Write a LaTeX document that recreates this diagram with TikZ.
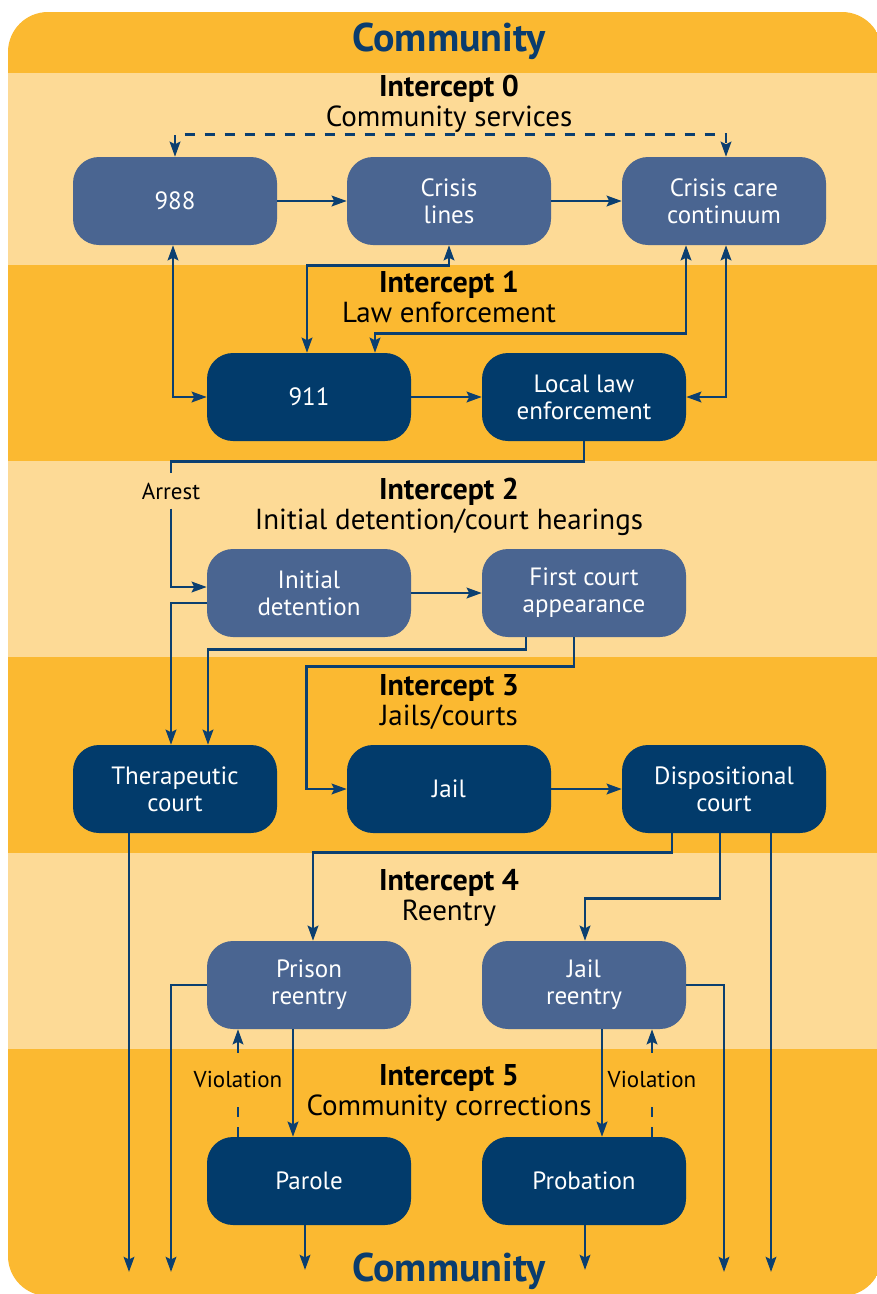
\documentclass[tikz,border=0pt]{standalone}
\usepackage{fontspec}
\setmainfont{PT Sans}
\usetikzlibrary{arrows.meta}
\definecolor{bandD}{HTML}{FBB931}
\definecolor{bandL}{HTML}{FDDA96}
\definecolor{boxM}{HTML}{4A6591}
\definecolor{boxD}{HTML}{023B6B}
\definecolor{lineC}{HTML}{0B3F70}
\definecolor{headC}{HTML}{0A3C6E}
\begin{document}
\begin{tikzpicture}[x=1pt,y=-1pt,
  boxbase/.style={rounded corners=26pt, minimum width=204pt, minimum height=88pt, inner sep=0pt,
    text=white, align=center, font=\fontsize{25}{27}\selectfont},
  mbox/.style={boxbase, fill=boxM},
  dbox/.style={boxbase, fill=boxD},
  ititle/.style={font=\fontsize{30}{32}\selectfont\bfseries, inner sep=0pt, anchor=base},
  isub/.style={font=\fontsize{29}{32}\selectfont, inner sep=0pt, anchor=base},
  header/.style={font=\fontsize{40}{44}\selectfont\bfseries, text=headC, inner sep=0pt, anchor=base},
  small/.style={font=\fontsize{23}{25}\selectfont, inner sep=0pt},
  conn/.style={draw=lineC, line width=2.9pt},
  tip/.tip={Stealth[length=15pt,width=10.5pt,inset=2.5pt]},
  arr/.style={conn, -tip},
  arrb/.style={conn, tip-tip},
  dashline/.style={dash pattern=on 10pt off 10pt}
]
\useasboundingbox (0,0) rectangle (877,1294);
\fill[white] (0,0) rectangle (877,1294);
\begin{scope}
\clip[rounded corners=40pt] (8,12) rectangle (882,1296);
\fill[bandD] (0,0) rectangle (890,1300);
\fill[bandL] (0,73) rectangle (890,265);
\fill[bandL] (0,461) rectangle (890,657);
\fill[bandL] (0,853) rectangle (890,1049);
\end{scope}

% headers and titles
\node[header] (ctop) at (449,51) {Community};
\node[header] (cbot) at (449,1281) {Community};
\node[ititle] (t0) at (449,96) {Intercept 0};
\node[isub] (s0) at (449,126) {Community services};
\node[ititle] (t1) at (449,292) {Intercept 1};
\node[isub] (s1) at (449,322) {Law enforcement};
\node[ititle] (t2) at (449,499) {Intercept 2};
\node[isub] (s2) at (449,529) {Initial detention/court hearings};
\node[ititle] (t3) at (449,695) {Intercept 3};
\node[isub] (s3) at (449,725) {Jails/courts};
\node[ititle] (t4) at (449,890) {Intercept 4};
\node[isub] (s4) at (449,920) {Reentry};
\node[ititle] (t5) at (449,1085) {Intercept 5};
\node[isub] (s5) at (449,1115) {Community corrections};

% boxes
\node[mbox] (n988) at (175,201) {988};
\node[mbox] (crisis) at (449,201) {Crisis\\lines};
\node[mbox] (care) at (724,201) {Crisis care\\continuum};
\node[dbox] (n911) at (309,397) {911};
\node[dbox] (law) at (584,397) {Local law\\enforcement};
\node[mbox] (detain) at (309,593) {Initial\\detention};
\node[mbox] (first) at (584,593) {First court\\appearance};
\node[dbox] (thera) at (175,789) {Therapeutic\\court};
\node[dbox] (jail) at (449,789) {Jail};
\node[dbox] (disp) at (724,789) {Dispositional\\court};
\node[mbox] (prison) at (309,985) {Prison\\reentry};
\node[mbox] (jailre) at (584,985) {Jail\\reentry};
\node[dbox] (parole) at (309,1181) {Parole};
\node[dbox] (prob) at (584,1181) {Probation};

% labels
\node[small, minimum height=35pt] (arrest) at (171,491) {Arrest};
\node[small, minimum height=52pt] (viol1) at (238,1079) {Violation};
\node[small, minimum height=52pt] (viol2) at (652,1079) {Violation};

% free ends
\coordinate (b1) at (129,1272);
\coordinate (b2) at (171,1272);
\coordinate (b3) at (305,1270);
\coordinate (b4) at (585,1270);
\coordinate (b5) at (724,1272);
\coordinate (b6) at (771,1272);

% Intercept 0
\draw[arr] (n988) -- (crisis);
\draw[arr] (crisis) -- (care);
\draw[arrb, dashline] (n988.north) -- ++(0,-22) -| ([xshift=2pt]care.north);

% Intercept 0 <-> 1
\draw[arrb] ([xshift=-2pt]n988.south) |- (n911.west);
\draw[arrb] (crisis.south) -- ++(0,20) -| ([xshift=-2pt]n911.north);
\draw[arrb] ([xshift=-38pt]care.south) -- ++(0,88) -| ([xshift=66pt]n911.north);
\draw[arrb] ([xshift=2pt]care.south) |- (law.east);
\draw[arr] (n911) -- (law);

% Intercept 1 -> 2
\draw[conn] (law.south) -- ++(0,20) -| (arrest.north);
\draw[arr] (arrest.south) |- ([yshift=6pt]detain.west);
\draw[arr] (detain) -- (first);

% Intercept 2 -> 3
\draw[arr] ([yshift=-10pt]detain.west) -| ([xshift=-4pt]thera.north);
\draw[arr] ([xshift=-58pt]first.south) -- ++(0,12) -| ([xshift=33pt]thera.north);
\draw[arr] ([xshift=-10pt]first.south) -- ++(0,29) -| ([xshift=-40pt]jail.west) -- (jail.west);
\draw[arr] (jail) -- (disp);

% Intercept 3 -> 4 and community
\draw[arr] (thera.south -| b1) -- (b1);
\draw[arr] ([xshift=-52pt]disp.south) -- ++(0,19) -| ([xshift=4pt]prison.north);
\draw[arr] ([xshift=-4pt]disp.south) -- ++(0,65) -| ([xshift=1pt]jailre.north);
\draw[arr] (disp.south -| b6) -- (b6);

% Intercept 4 -> 5 and community
\draw[arr] (prison.west) -| (b2);
\draw[arr] ([xshift=-16pt]prison.south) -- ([xshift=-16pt]parole.north);
\draw[conn, dashline] (parole.north -| viol1) -- (viol1.south);
\draw[arr] (viol1.north) -- (prison.south -| viol1);
\draw[arr] ([xshift=18pt]jailre.south) -- ([xshift=18pt]prob.north);
\draw[conn, dashline] (prob.north -| viol2) -- (viol2.south);
\draw[arr] (viol2.north) -- (jailre.south -| viol2);
\draw[arr] (jailre.east) -| (b5);
\draw[arr] (parole.south -| b3) -- (b3);
\draw[arr] (prob.south -| b4) -- (b4);
\end{tikzpicture}
\end{document}
